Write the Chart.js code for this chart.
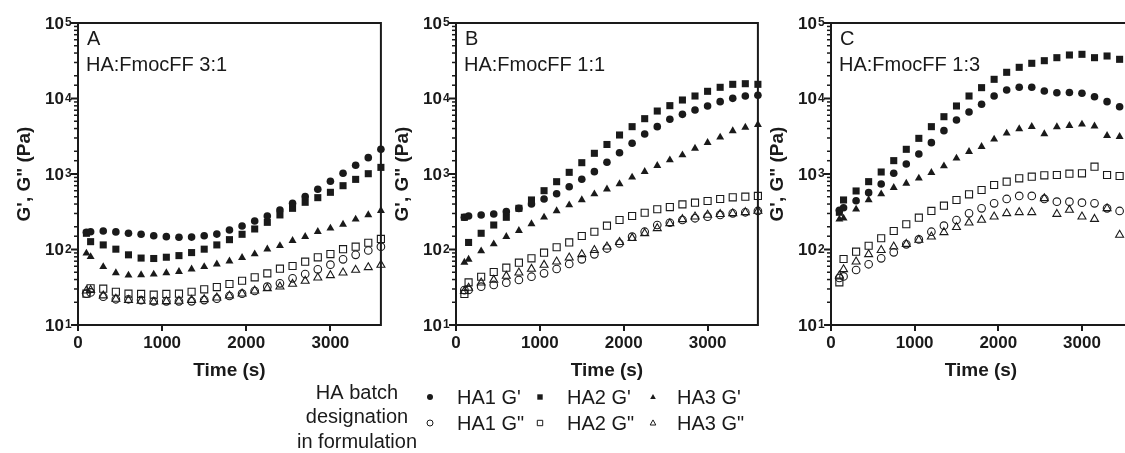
<!DOCTYPE html>
<html>
<head>
<meta charset="utf-8">
<script src="https://cdn.jsdelivr.net/npm/chart.js@4.4.0/dist/chart.umd.min.js"></script>
<style>
  html, body { margin: 0; padding: 0; background: #fff; overflow: hidden; width: 1125px; height: 453px; }
  canvas { position: absolute; top: 0; }
  #legend { top: 375px; left: 0; }
</style>
</head>
<body>
<canvas id="chartA" width="387" height="390" style="left:0px"></canvas>
<canvas id="chartB" width="386" height="390" style="left:378px"></canvas>
<canvas id="chartC" width="384" height="390" style="left:753px"></canvas>
<canvas id="legend" width="1125" height="78"></canvas>
<script>
// time points (s)
const timeAB = [100, 150, 300, 450, 600, 750, 900, 1050, 1200, 1350, 1500, 1650, 1800, 1950, 2100, 2250, 2400, 2550, 2700, 2850, 3000, 3150, 3300, 3450, 3600];
const timeC = [100, 150, 300, 450, 600, 750, 900, 1050, 1200, 1350, 1500, 1650, 1800, 1950, 2100, 2250, 2400, 2550, 2700, 2850, 3000, 3150, 3300, 3450];

const seriesLabels = ["HA1 G'", "HA2 G'", "HA3 G'", 'HA1 G"', 'HA2 G"', 'HA3 G"'];
const panelLetters = ['A', 'B', 'C'];
const panelTitles = ['HA:FmocFF 3:1', 'HA:FmocFF 1:1', 'HA:FmocFF 1:3'];
const xTicks = [0, 1000, 2000, 3000];
const yTicks = [10, 100, 1000, 10000, 100000];

// Panel A - HA:FmocFF 3:1 (Pa)
const aHA1Gp = [169, 172, 176, 171, 164, 159, 152, 148, 145, 146, 152, 160, 181, 205, 238, 278, 334, 409, 501, 627, 800, 1021, 1303, 1646, 2123];
const aHA2Gp = [164, 127, 115, 101, 85, 77, 76, 79, 83, 91, 101, 115, 135, 159, 187, 229, 287, 351, 422, 486, 572, 700, 849, 1009, 1224];
const aHA3Gp = [89, 80, 59, 49, 45.5, 46, 47, 49, 51, 55, 59, 64, 70, 78, 87, 101, 112, 131, 148, 172, 191, 215, 251, 287, 327];
const aHA1Gpp = [26, 27, 23.7, 21.9, 21.9, 21.4, 20.6, 20.6, 20.6, 20.6, 21.4, 22.3, 24.2, 26, 28.2, 32.2, 35.6, 41.5, 47.3, 54.6, 63, 74, 85, 97, 109];
const aHA2Gpp = [26, 30.6, 30.3, 27.6, 26, 25.8, 25.2, 25.8, 26, 27.6, 29.7, 31.8, 34.9, 38.6, 42.8, 48.3, 55.7, 60.4, 69, 78.7, 87, 101, 109, 123, 138];
const aHA3Gpp = [28.5, 29, 24.5, 22.1, 21.4, 20.8, 20.4, 20.6, 20.8, 21.4, 21.9, 23, 24.5, 26, 28.5, 30.6, 32.2, 34.9, 38.3, 42.4, 45.5, 49.3, 53.5, 58, 62.4];

// Panel B - HA:FmocFF 1:1
const bHA1Gp = [267, 278, 286, 295, 317, 350, 401, 467, 548, 679, 851, 1074, 1428, 1915, 2556, 3390, 4236, 5300, 6166, 7040, 7960, 9080, 10050, 10790, 11020];
const bHA2Gp = [267, 124, 164, 211, 267, 351, 453, 601, 791, 1052, 1412, 1880, 2460, 3285, 4236, 5404, 6823, 8040, 9550, 10790, 12450, 14070, 15410, 15700, 15410];
const bHA3Gp = [67.6, 74, 95.5, 118, 148, 178, 218, 267, 324, 388, 453, 543, 630, 738, 904, 1074, 1288, 1532, 1786, 2188, 2600, 3063, 3715, 4150, 4500];
const bHA1Gpp = [29, 29.1, 32.2, 33.9, 36.4, 39.5, 43.6, 48.3, 55.2, 64.3, 74, 86.3, 103, 120, 148, 172, 211, 226, 246, 259, 272, 287, 301, 311, 324];
const bHA2Gpp = [25.8, 36.7, 43.6, 50.3, 57.4, 66.9, 76.4, 90.7, 107, 124, 151, 172, 207, 246, 278, 307, 341, 365, 396, 417, 439, 467, 491, 501, 512];
const bHA3Gpp = [28, 31, 36.4, 39.5, 44.6, 49.3, 55.2, 62.4, 69, 78, 86.3, 98, 109, 125, 141, 164, 191, 222, 251, 272, 287, 294, 301, 311, 324];

// Panel C - HA:FmocFF 1:3
const cHA1Gp = [330, 358, 443, 566, 738, 1021, 1356, 1841, 2600, 3750, 5190, 6620, 8380, 10790, 12960, 14070, 14070, 12570, 11940, 12020, 11720, 10560, 9080, 7790];
const cHA2Gp = [311, 453, 596, 792, 1063, 1503, 2123, 2966, 4236, 5740, 7960, 10790, 13920, 17950, 22230, 25880, 29250, 31680, 34730, 37690, 38480, 34730, 36550, 33040];
const cHA3Gp = [251, 259, 341, 453, 543, 659, 752, 877, 1042, 1276, 1614, 1976, 2300, 2880, 3460, 3950, 4236, 3390, 4200, 4365, 4550, 4300, 3220, 3120];
const cHA1Gpp = [42, 44, 53.5, 63.7, 76.4, 91.8, 117, 136, 172, 207, 246, 301, 351, 409, 467, 512, 512, 467, 430, 430, 417, 409, 351, 324];
const cHA2Gpp = [36.7, 74.8, 93.5, 112, 141, 176, 216, 264, 324, 381, 453, 538, 614, 715, 792, 877, 922, 960, 970, 1009, 1020, 1250, 970, 941];
const cHA3Gpp = [45, 54.6, 69, 86.3, 98, 109, 118, 134, 148, 169, 197, 226, 246, 272, 301, 311, 311, 476, 295, 334, 272, 253, 351, 156];

const ink = '#1a1a1a';
const family = '"Liberation Sans", Arial, Helvetica, sans-serif';

// marker look per series (same order as seriesLabels)
const markers = [
    { style: 'circle', r: 3.8, filled: true },
    { style: 'rect', r: 5, filled: true },
    { style: 'triangle', r: 4.6, filled: true },
    { style: 'circle', r: 3.8, filled: false },
    { style: 'rect', r: 5, filled: false },
    { style: 'triangle', r: 4.6, filled: false }
];

// frame, log ticks with superscript labels, panel captions
const framePlugin = {
    id: 'frame',
    beforeDatasetsDraw(chart, args, opts) {
        const ctx = chart.ctx;
        const a = chart.chartArea;
        const y = chart.scales.y;
        ctx.save();
        ctx.strokeStyle = ink;
        ctx.lineWidth = 2;
        ctx.strokeRect(a.left, a.top, a.right - a.left, a.bottom - a.top);

        y.ticks.forEach(t => {
            const py = y.getPixelForValue(t.value);
            const e = Math.log10(t.value);
            const major = Math.abs(e - Math.round(e)) < 1e-6;
            ctx.beginPath();
            ctx.lineWidth = major ? 2 : 1.5;
            ctx.moveTo(a.left, py);
            ctx.lineTo(a.left - (major ? 7 : 4), py);
            ctx.stroke();
        });
        ctx.fillStyle = ink;
        yTicks.forEach(v => {
            const py = y.getPixelForValue(v);
            ctx.font = 'bold 17px ' + family;
            ctx.textAlign = 'right';
            ctx.textBaseline = 'middle';
            ctx.fillText('10', a.left - 14, py + 1);
            ctx.font = 'bold 12px ' + family;
            ctx.textAlign = 'left';
            ctx.textBaseline = 'top';
            ctx.fillText(String(Math.round(Math.log10(v))), a.left - 13, py - 6);
        });

        ctx.font = '20px ' + family;
        ctx.textAlign = 'left';
        ctx.textBaseline = 'alphabetic';
        ctx.fillText(opts.letter, a.left + 9, a.top + 22);
        ctx.fillText(opts.title, a.left + 8, a.top + 48);
        ctx.restore();
    }
};

function makeChart(id, times, series, xMax, idx) {
    return new Chart(document.getElementById(id), {
        type: 'scatter',
        data: {
            datasets: series.map((vals, i) => ({
                label: seriesLabels[i],
                data: vals.map((v, j) => ({ x: times[j], y: v })),
                pointStyle: markers[i].style,
                pointRadius: markers[i].r,
                pointHoverRadius: markers[i].r,
                backgroundColor: markers[i].filled ? ink : 'rgba(0,0,0,0)',
                borderColor: ink,
                borderWidth: markers[i].filled ? 0 : 1.1,
                clip: false
            }))
        },
        options: {
            responsive: false,
            animation: false,
            layout: { padding: { top: 23, right: 4, left: 0, bottom: 0 } },
            plugins: {
                legend: { display: false },
                tooltip: { enabled: false },
                frame: { letter: panelLetters[idx], title: panelTitles[idx] }
            },
            scales: {
                x: {
                    type: 'linear',
                    min: 0,
                    max: xMax,
                    border: { display: false },
                    grid: { drawOnChartArea: false, drawTicks: true, tickLength: 6, lineWidth: 2, tickWidth: 2, tickColor: ink },
                    afterBuildTicks: s => { s.ticks = xTicks.map(v => ({ value: v })); },
                    ticks: {
                        padding: 2,
                        color: ink,
                        font: { family: family, size: 17, weight: 'bold' },
                        callback: v => String(v)
                    },
                    title: { display: true, text: 'Time (s)', color: ink, font: { family: family, size: 19, weight: 'bold' }, padding: { top: 0, bottom: 8 } },
                    afterFit: s => { s.height = 65; }
                },
                y: {
                    type: 'logarithmic',
                    min: 10,
                    max: 100000,
                    border: { display: false },
                    grid: { display: false },
                    ticks: { display: false },
                    title: { display: true, text: 'G\', G" (Pa)', color: ink, font: { family: family, size: 19, weight: 'bold' }, padding: { top: 13, bottom: 0 } },
                    afterFit: s => { s.width = 78; }
                }
            }
        },
        plugins: [framePlugin]
    });
}

makeChart('chartA', timeAB, [aHA1Gp, aHA2Gp, aHA3Gp, aHA1Gpp, aHA2Gpp, aHA3Gpp], 3600, 0);
makeChart('chartB', timeAB, [bHA1Gp, bHA2Gp, bHA3Gp, bHA1Gpp, bHA2Gpp, bHA3Gpp], 3600, 1);
// panel C runs just past the right edge of the figure
makeChart('chartC', timeC, [cHA1Gp, cHA2Gp, cHA3Gp, cHA1Gpp, cHA2Gpp, cHA3Gpp], 3585, 2);

// legend below the panels
function drawMarker(ctx, m, x, y, r) {
    ctx.beginPath();
    if (m.style === 'circle') {
        ctx.arc(x, y, r, 0, Math.PI * 2);
    } else if (m.style === 'rect') {
        ctx.rect(x - r, y - r, 2 * r, 2 * r);
    } else {
        ctx.moveTo(x, y - r * 1.15);
        ctx.lineTo(x + r * 1.05, y + r * 0.75);
        ctx.lineTo(x - r * 1.05, y + r * 0.75);
        ctx.closePath();
    }
    if (m.filled) {
        ctx.fill();
    } else {
        ctx.lineWidth = 1;
        ctx.stroke();
    }
}

(function drawLegend() {
    const ctx = document.getElementById('legend').getContext('2d');
    ctx.fillStyle = ink;
    ctx.strokeStyle = ink;
    ctx.font = '20px ' + family;
    ctx.textAlign = 'center';
    ctx.textBaseline = 'middle';
    ['HA batch', 'designation', 'in formulation'].forEach((line, i) => {
        ctx.fillText(line, 357, 18 + i * 24.5);
    });
    const markX = [430, 540, 653];
    const textX = [457, 567, 677];
    const rowY = [22, 48];
    ctx.textAlign = 'left';
    seriesLabels.forEach((lab, i) => {
        const col = i % 3, row = Math.floor(i / 3);
        drawMarker(ctx, markers[i], markX[col], rowY[row], markers[i].style === 'circle' ? 3 : 2.7);
        ctx.fillText(lab, textX[col], rowY[row] + 1);
    });
})();
</script>
</body>
</html>
